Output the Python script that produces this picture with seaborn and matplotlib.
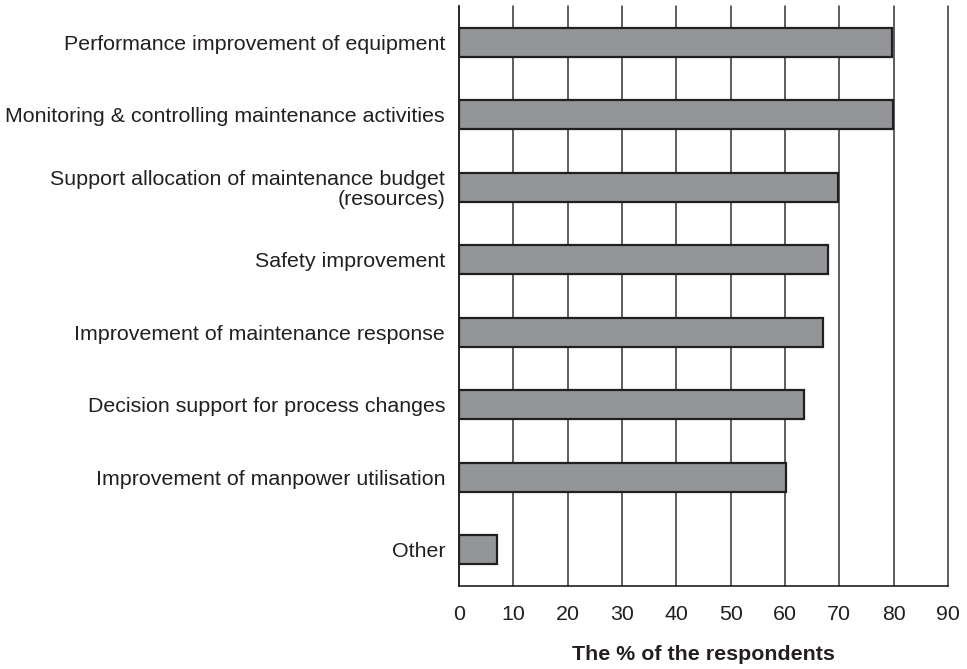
import matplotlib
matplotlib.use("Agg")
import matplotlib.pyplot as plt
import seaborn as sns
import pandas as pd
import numpy as np

# Survey results: purposes of maintenance performance measurement
categories = [
    "Performance improvement of equipment",
    "Monitoring & controlling maintenance activities",
    "Support allocation of maintenance budget\n(resources)",
    "Safety improvement",
    "Improvement of maintenance response",
    "Decision support for process changes",
    "Improvement of manpower utilisation",
    "Other",
]
percent = [79.7, 79.8, 69.7, 68.0, 67.0, 63.5, 60.1, 7.0]
x_ticks = [0, 10, 20, 30, 40, 50, 60, 70, 80, 90]
x_label = "The % of the respondents"

df = pd.DataFrame({"purpose": categories, "percent": percent})

sns.set_style("white")
plt.rcParams["font.family"] = ["Liberation Sans", "DejaVu Sans"]

ink = "#231f20"
fig = plt.figure(figsize=(9.67, 6.69), dpi=100)
ax = fig.add_axes([459 / 967, 1 - 586 / 669, (948 - 459) / 967, (586 - 6) / 669])

ax.grid(axis="x", color="#333333", linewidth=1.1, zorder=0)
ax.set_axisbelow(True)

sns.barplot(data=df, y="purpose", x="percent", orient="h", color="#939598",
            saturation=1, edgecolor=ink, linewidth=1.6, width=0.4, ax=ax, zorder=3)

ax.set_xlim(0, 90)
ax.set_ylim(len(categories) - 0.5, -0.5)
ax.set_xticks(x_ticks)
ax.set_xticklabels([str(t) for t in x_ticks])
for gl in ax.get_xgridlines():
    gl.set_clip_on(False)

# category labels centred on bars; tick marks at category boundaries
ax.set_yticks(np.arange(len(categories)))
ax.set_yticklabels(categories, linespacing=1.05)
ax.set_yticks(np.arange(len(categories) + 1) - 0.5, minor=True)
ax.tick_params(axis="y", which="major", length=0, pad=10, labelsize=15.4, labelcolor=ink)
ax.tick_params(axis="y", which="minor", length=7, width=1.1, color=ink, direction="out")
ax.tick_params(axis="x", which="major", length=6, width=1.1, color=ink, direction="out",
               pad=8, labelsize=15.4, labelcolor=ink)

for side in ("top", "right"):
    ax.spines[side].set_visible(False)
for side in ("left", "bottom"):
    ax.spines[side].set_color(ink)
    ax.spines[side].set_linewidth(1.2)

ax.set_ylabel("")
ax.set_xlabel(x_label, fontsize=15.4, fontweight="bold", color=ink, labelpad=15)

fig.savefig("out.png", dpi=100, facecolor="white")
